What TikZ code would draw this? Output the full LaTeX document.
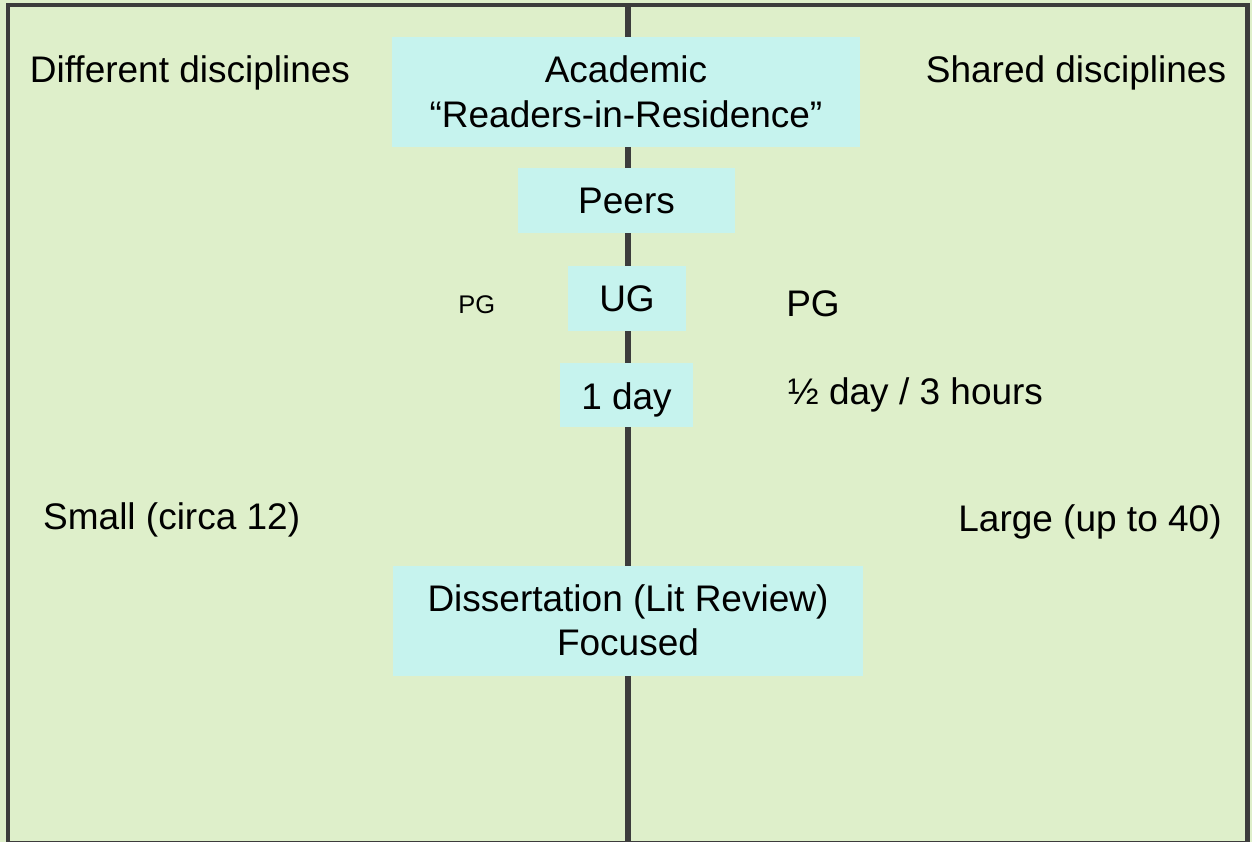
\documentclass[tikz,border=0pt]{standalone}
\usepackage{fontspec}
\setmainfont{Liberation Sans}
\definecolor{panelgreen}{HTML}{DEEFCA}
\definecolor{boxcyan}{HTML}{C6F3EE}
\definecolor{rulegrey}{HTML}{3C3C3C}
\begin{document}
\begin{tikzpicture}[x=1pt,y=-1pt,
  cbox/.style={draw=none,fill=boxcyan,inner sep=0pt,rectangle},
  lbl/.style={inner sep=0pt,anchor=base,font=\fontsize{37}{44.4}\selectfont},
  smalllbl/.style={inner sep=0pt,anchor=base,font=\fontsize{25.5}{30}\selectfont},
  rule/.style={draw=rulegrey}]
\useasboundingbox (0,0) rectangle (1252,842);
\clip (0,0) rectangle (1252,842);
\fill[panelgreen] (0,0) rectangle (1252,842);

% frame and dividing line
\coordinate (top) at (627.6,5);
\coordinate (bottom) at (627.6,845);
\draw[rule,line width=4.6pt] (8,5) rectangle (1247.4,843.5);
\draw[rule,line width=6pt] (top) -- (bottom);

% boxes on the dividing line
\node[cbox,minimum width=468pt,minimum height=110pt] (acad) at (626,92) {};
\node[cbox,minimum width=217pt,minimum height=65pt] (peers) at (626.5,200.5) {};
\node[cbox,minimum width=118pt,minimum height=65pt] (ug) at (627,298.5) {};
\node[cbox,minimum width=133pt,minimum height=64pt] (day) at (626.5,395) {};
\node[cbox,minimum width=470pt,minimum height=110pt] (diss) at (628,621) {};

% box texts
\node[lbl] (acadA) at (626,82.7) {Academic};
\node[lbl] (acadB) at (626,127.7) {“Readers-in-Residence”};
\node[lbl] (peersT) at (626.5,213.3) {Peers};
\node[lbl] (ugT) at (627,311.7) {UG};
\node[lbl] (dayT) at (626.5,409) {1 day};
\node[lbl] (dissA) at (628,611) {Dissertation (Lit Review)};
\node[lbl] (dissB) at (628,655.7) {Focused};

% side texts
\node[lbl] (diff) at (190,82.7) {Different disciplines};
\node[lbl] (shared) at (1076,82.7) {Shared disciplines};
\node[smalllbl] (pgL) at (476.7,313.3) {PG};
\node[lbl] (pgR) at (813,316) {PG};
\node[lbl] (half) at (915.5,404) {½ day / 3 hours};
\node[lbl] (small) at (171.7,529.3) {Small (circa 12)};
\node[lbl] (large) at (1090,531.7) {Large (up to 40)};
\end{tikzpicture}
\end{document}
